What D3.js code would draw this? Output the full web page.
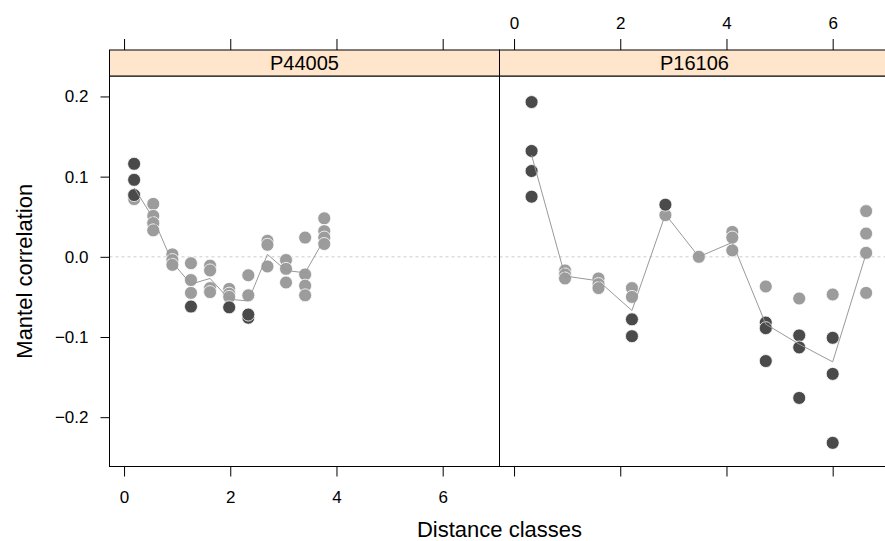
<!DOCTYPE html>
<html>
<head>
<meta charset="utf-8">
<script src="https://cdn.jsdelivr.net/npm/d3@7"></script>
<style>
  body { margin: 0; background: #fff; }
  text { font-family: "Liberation Sans", Arial, sans-serif; fill: #000; }
</style>
</head>
<body>
<svg id="chart"></svg>
<script>
// panel names, in drawing order (left, right)
const panelNames = ["P44005", "P16106"];

// distance classes (x) for each panel
const classesLeft  = [0.19, 0.55, 0.91, 1.26, 1.62, 1.98, 2.34, 2.70, 3.05, 3.41, 3.77];
const classesRight = [0.33, 0.96, 1.59, 2.22, 2.85, 3.48, 4.11, 4.74, 5.37, 6.00, 6.63];

// Mantel correlations, one array per distance class
const corrLeft = [
  [0.072, 0.077, 0.096, 0.116],
  [0.066, 0.051, 0.042, 0.033],
  [0.003, -0.004, -0.010],
  [-0.008, -0.029, -0.045, -0.062],
  [-0.011, -0.017, -0.039, -0.044],
  [-0.040, -0.046, -0.050, -0.063],
  [-0.023, -0.048, -0.076, -0.072],
  [0.020, 0.015, -0.012],
  [-0.004, -0.015, -0.032],
  [0.024, -0.022, -0.036, -0.048],
  [0.048, 0.032, 0.024, 0.016]
];
// 1 = significant (dark), 0 = not significant (grey)
const sigLeft = [
  [0, 1, 1, 1],
  [0, 0, 0, 0],
  [0, 0, 0],
  [0, 0, 0, 1],
  [0, 0, 0, 0],
  [0, 0, 0, 1],
  [0, 0, 1, 1],
  [0, 0, 0],
  [0, 0, 0],
  [0, 0, 0, 0],
  [0, 0, 0, 0]
];
const meanLeft = [0.086, 0.048, -0.007, -0.034, -0.027, -0.053, -0.055, 0.003, -0.017, -0.020, 0.022];

const corrRight = [
  [0.075, 0.107, 0.132, 0.193],
  [-0.017, -0.022, -0.027],
  [-0.027, -0.034, -0.039],
  [-0.039, -0.050, -0.078, -0.099],
  [0.065, 0.052],
  [0.000],
  [0.031, 0.024, 0.008],
  [-0.037, -0.082, -0.089, -0.130],
  [-0.052, -0.098, -0.113, -0.176],
  [-0.047, -0.101, -0.146, -0.232],
  [0.057, 0.029, 0.005, -0.045]
];
const sigRight = [
  [1, 1, 1, 1],
  [0, 0, 0],
  [0, 0, 0],
  [0, 0, 1, 1],
  [1, 0],
  [0],
  [0, 0, 0],
  [0, 1, 1, 1],
  [0, 1, 1, 1],
  [0, 1, 1, 1],
  [0, 0, 0, 0]
];
const meanRight = [0.127, -0.024, -0.030, -0.067, 0.053, 0.000, 0.018, -0.084, -0.109, -0.131, 0.004];

const xTicks = [0, 2, 4, 6];
const yTicks = [-0.2, -0.1, 0.0, 0.1, 0.2];

const W = 885, H = 541;
const panelW = 390, panelLeft = 109.5, panelTop = 76, stripH = 26, panelBottom = 466.5;
const tickFont = "17px", titleFont = "22px", stripFont = "20px";

const svg = d3.select("#chart").attr("width", W).attr("height", H);

const x = d3.scaleLinear().domain([-0.274, 7.07]).range([0, panelW]);
const y = d3.scaleLinear().domain([-0.2615, 0.2255]).range([panelBottom, panelTop]);
const fmt = d => d3.format(".1f")(d).replace("-", "\u2212");

const panels = [
  { name: panelNames[0], cls: classesLeft, corr: corrLeft, sig: sigLeft, mean: meanLeft },
  { name: panelNames[1], cls: classesRight, corr: corrRight, sig: sigRight, mean: meanRight }
];

panels.forEach((p, i) => {
  const g = svg.append("g").attr("transform", `translate(${panelLeft + i * panelW},0)`);

  // zero reference line
  g.append("line")
    .attr("x1", 0).attr("x2", panelW)
    .attr("y1", y(0)).attr("y2", y(0))
    .attr("stroke", "#cccccc").attr("stroke-dasharray", "3,3");

  // points (grey first, significant ones on top)
  const pts = [];
  p.corr.forEach((vals, j) => vals.forEach((v, k) => pts.push({ x: p.cls[j], v: v, s: p.sig[j][k] })));
  pts.sort((a, b) => a.s - b.s);
  g.selectAll("circle").data(pts).enter().append("circle")
    .attr("cx", d => x(d.x)).attr("cy", d => y(d.v)).attr("r", 6.5)
    .attr("fill", d => d.s ? "#4a4a4a" : "#9c9c9c")
    .attr("stroke", "#fff").attr("stroke-width", 0.8);

  // mean line
  const line = d3.line().x((d, j) => x(p.cls[j])).y(d => y(d));
  g.append("path").datum(p.mean).attr("d", line)
    .attr("fill", "none").attr("stroke", "#999999").attr("stroke-width", 1);

  // panel frame
  g.append("rect").attr("x", 0).attr("y", panelTop).attr("width", panelW).attr("height", panelBottom - panelTop)
    .attr("fill", "none").attr("stroke", "#000");

  // strip
  g.append("rect").attr("x", 0).attr("y", panelTop - stripH).attr("width", panelW).attr("height", stripH)
    .attr("fill", "#ffe5cc").attr("stroke", "#000");
  g.append("text").attr("x", panelW / 2).attr("y", panelTop - stripH / 2).attr("dy", "0.36em")
    .attr("text-anchor", "middle").style("font-size", stripFont).text(p.name);

  // bottom axis: ticks on both, labels only on the left panel
  const bAx = g.append("g").attr("transform", `translate(0,${panelBottom})`)
    .call(d3.axisBottom(x).tickValues(xTicks).tickSize(10)
      .tickFormat(i === 0 ? d3.format("d") : ""));
  bAx.selectAll("text").attr("y", 30).attr("dy", "0.36em");
  // top axis: ticks on both, labels only on the right panel
  const tAx = g.append("g").attr("transform", `translate(0,${panelTop - stripH})`)
    .call(d3.axisTop(x).tickValues(xTicks).tickSize(11)
      .tickFormat(i === 1 ? d3.format("d") : ""));
  tAx.selectAll("text").attr("y", -27).attr("dy", "0.36em");
  [bAx, tAx].forEach(a => {
    a.select(".domain").remove();
    a.selectAll("line").attr("stroke", "#000");
    a.selectAll("text").style("font-size", tickFont).attr("font-family", "Liberation Sans, Arial, sans-serif");
  });
});

// y axis on the left
const yAx = svg.append("g").attr("transform", `translate(${panelLeft},0)`)
  .call(d3.axisLeft(y).tickValues(yTicks).tickSize(9).tickPadding(12).tickFormat(fmt));
yAx.select(".domain").remove();
yAx.selectAll("line").attr("stroke", "#000");
yAx.selectAll("text").style("font-size", tickFont).attr("font-family", "Liberation Sans, Arial, sans-serif");

// axis titles
svg.append("text").attr("x", panelLeft + panelW).attr("y", 537)
  .attr("text-anchor", "middle").style("font-size", titleFont).text("Distance classes");
svg.append("text").attr("transform", `translate(24,${(panelTop + panelBottom) / 2}) rotate(-90)`)
  .attr("dy", "0.36em").attr("text-anchor", "middle").style("font-size", titleFont).text("Mantel correlation");
</script>
</body>
</html>
